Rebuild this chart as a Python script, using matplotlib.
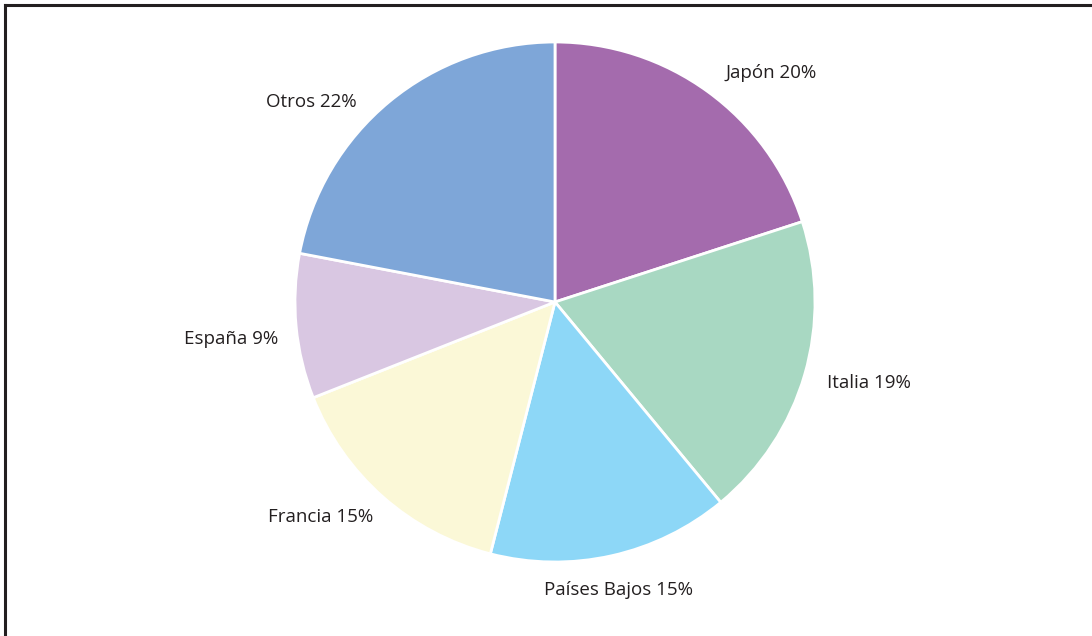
import matplotlib
matplotlib.use("Agg")
import matplotlib.pyplot as plt
from matplotlib.lines import Line2D

labels = ["Japón", "Italia", "Países Bajos", "Francia", "España", "Otros"]
values = [20, 19, 15, 15, 9, 22]
colors = ["#A46BAD", "#A8D8C2", "#8DD7F7", "#FBF8D7", "#D9C7E2", "#7EA6D8"]
# label centers (data coords, pie radius = 1)
label_pos = [(0.830, 0.880), (1.208, -0.313), (0.243, -1.108),
             (-0.903, -0.828), (-1.247, -0.143), (-0.938, 0.768)]

W, H = 1092, 636
fig = plt.figure(figsize=(W / 100, H / 100), dpi=100)
fig.patch.set_facecolor("white")

cx, cy, r = 555, 302, 260
ax = fig.add_axes([(cx - r) / W, (H - cy - r) / H, 2 * r / W, 2 * r / H])
ax.pie(values, colors=colors, startangle=90, counterclock=False, radius=1,
       wedgeprops=dict(edgecolor="white", linewidth=2))
ax.set_xlim(-1, 1)
ax.set_ylim(-1, 1)
ax.set_aspect("auto")
ax.axis("off")

for lab, v, (x, y) in zip(labels, values, label_pos):
    ax.text(x, y, f"{lab} {v}%", ha="center", va="center", fontsize=13.5,
            family="Open Sans", color="#231F20", clip_on=False)

# border lines (top and left)
fig.add_artist(Line2D([5 / W, 1], [1 - 5 / H, 1 - 5 / H], transform=fig.transFigure,
                      color="#231F20", linewidth=2.2))
fig.add_artist(Line2D([5 / W, 5 / W], [0, 1 - 5 / H], transform=fig.transFigure,
                      color="#231F20", linewidth=2.2))

fig.savefig("out.png", dpi=100, facecolor="white")
